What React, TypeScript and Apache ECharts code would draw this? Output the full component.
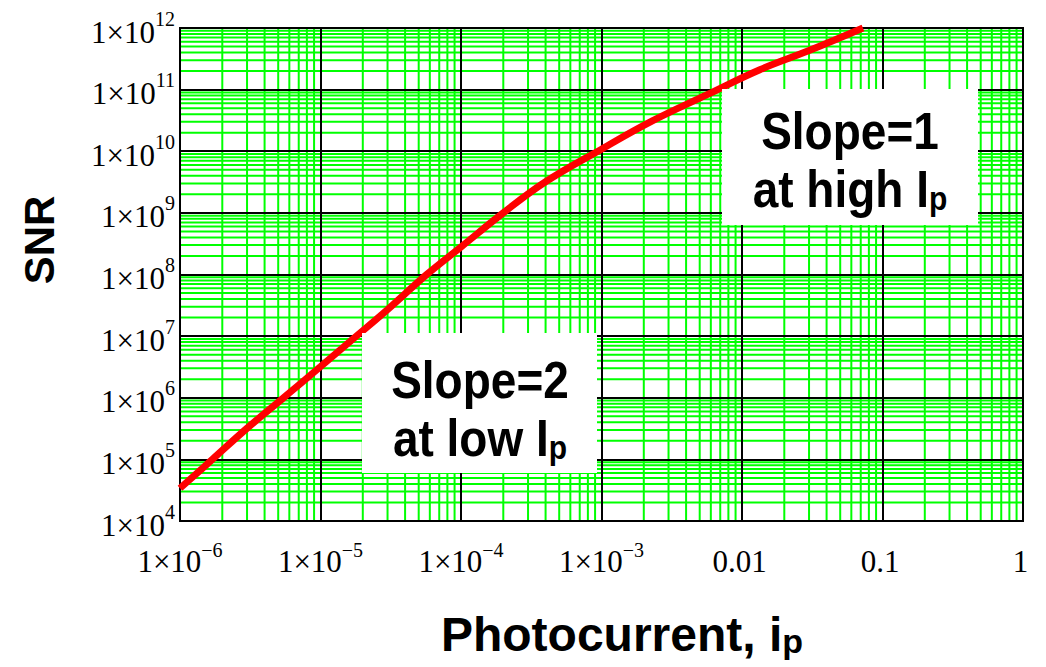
import React, { useEffect, useRef } from "react";
import * as echarts from "echarts";

// ---- data ----
const ipValues = [1e-6, 1.7e-6, 3e-6, 5.6e-6, 1e-5, 1.8e-5, 3e-5, 5.7e-5, 1e-4, 2e-4, 4e-4, 1e-3, 2.3e-3, 5.6e-3, 1.34e-2, 3e-2, 7.26e-2];
const snrValues = [3.4e4, 1e5, 3.2e5, 1.05e6, 3.2e6, 1e7, 2.7e7, 1e8, 2.8e8, 1e9, 3.2e9, 1.08e10, 3.1e10, 8.2e10, 2.1e11, 4.3e11, 1e12];

const xMin = 1e-6;
const xMax = 1;
const yMin = 1e4;
const yMax = 1e12;

const xTickExp = [-6, -5, -4, -3, -2, -1, 0];
const xTickMain = ["1×10", "1×10", "1×10", "1×10", "0.01", "0.1", "1"];
const xTickSup = ["−6", "−5", "−4", "−3", "", "", ""];

const yTickExp = [4, 5, 6, 7, 8, 9, 10, 11, 12];
const yTickMain = ["1×10", "1×10", "1×10", "1×10", "1×10", "1×10", "1×10", "1×10", "1×10"];
const yTickSup = ["4", "5", "6", "7", "8", "9", "10", "11", "12"];

const xTitle = "Photocurrent, i";
const yTitle = "SNR";
const note1 = ["Slope=1", "at high I"];
const note2 = ["Slope=2", "at low I"];
const subP = "p";

function minorValues(lo: number, hi: number): number[] {
  const out: number[] = [];
  for (let e = Math.round(Math.log10(lo)); e < Math.round(Math.log10(hi)); e++) {
    for (let k = 2; k <= 9; k++) out.push(k * Math.pow(10, e));
  }
  return out;
}

const serif = "Liberation Serif";
const sans = "Liberation Sans";

const tickRich = (supPad: number) => ({
  m: { fontFamily: serif, fontSize: 31, color: "#000", verticalAlign: "bottom" },
  s: { fontFamily: serif, fontSize: 20, color: "#000", verticalAlign: "bottom", padding: [0, 0, supPad, 0] },
});

export default function App() {
  const ref = useRef<HTMLDivElement>(null);
  useEffect(() => {
    if (!ref.current) return;
    const chart = echarts.init(ref.current, undefined, { renderer: "svg" });
    const xMinor = minorValues(xMin, xMax);
    const yMinor = minorValues(yMin, yMax);
    const noteRich = {
      a: { fontFamily: sans, fontWeight: "bold", fontSize: 46, color: "#000", lineHeight: 52, verticalAlign: "bottom" },
      b: { fontFamily: sans, fontWeight: "bold", fontSize: 30, color: "#000", lineHeight: 20, verticalAlign: "bottom" },
    };
    const green = { stroke: "#00ff00", lineWidth: 2 };
    chart.setOption({
      animation: false,
      backgroundColor: "#fff",
      grid: { left: 180, right: 23, top: 28, bottom: 146, show: true, borderColor: "#000", borderWidth: 2, backgroundColor: "#fff" },
      xAxis: {
        type: "log",
        logBase: 10,
        min: xMin,
        max: xMax,
        splitNumber: 6,
        z: 3,
        axisLine: { show: true, lineStyle: { color: "#000", width: 2 } },
        axisTick: { show: false },
        splitLine: { show: true, lineStyle: { color: "#000", width: 2 } },
        axisLabel: {
          margin: 19,
          fontSize: 31,
          fontFamily: serif,
          color: "#000",
          formatter: (v: number) => {
            const i = xTickExp.indexOf(Math.round(Math.log10(v)));
            if (i < 0) return "";
            return `{m|${xTickMain[i]}}{s|${xTickSup[i] || " "}}`;
          },
          rich: tickRich(17),
        },
      },
      yAxis: {
        type: "log",
        logBase: 10,
        min: yMin,
        max: yMax,
        splitNumber: 8,
        z: 3,
        axisLine: { show: true, lineStyle: { color: "#000", width: 2 } },
        axisTick: { show: false },
        splitLine: { show: true, lineStyle: { color: "#000", width: 2 } },
        axisLabel: {
          margin: 5,
          fontSize: 31,
          fontFamily: serif,
          color: "#000",
          formatter: (v: number) => {
            const i = yTickExp.indexOf(Math.round(Math.log10(v)));
            if (i < 0) return "";
            return `{m|${yTickMain[i]}}{s|${yTickSup[i]}}`;
          },
          rich: tickRich(19),
        },
      },
      series: [
        {
          type: "custom",
          z: 1,
          silent: true,
          clip: false,
          data: xMinor.map((v) => [v, yMin]),
          renderItem: (params: any, api: any) => {
            const v = api.value(0);
            const p0 = api.coord([v, yMin]);
            const p1 = api.coord([v, yMax]);
            return { type: "line", shape: { x1: p0[0], y1: p0[1], x2: p1[0], y2: p1[1] }, style: green };
          },
        },
        {
          type: "custom",
          z: 1,
          silent: true,
          clip: false,
          data: yMinor.map((v) => [xMin, v]),
          renderItem: (params: any, api: any) => {
            const v = api.value(1);
            const p0 = api.coord([xMin, v]);
            const p1 = api.coord([xMax, v]);
            return { type: "line", shape: { x1: p0[0], y1: p0[1], x2: p1[0], y2: p1[1] }, style: green };
          },
        },
        {
          type: "line",
          data: ipValues.map((x, i) => [x, snrValues[i]]),
          showSymbol: false,
          smooth: 0.4,
          clip: true,
          z: 5,
          lineStyle: { color: "#ff0000", width: 7 },
        },
      ],
      graphic: [
        { type: "rect", z: 10, shape: { x: 722, y: 89, width: 256, height: 136 }, style: { fill: "#fff" } },
        {
          type: "text", z: 11, x: 850, y: 157, scaleY: 1.12,
          style: {
            text: `{a|${note1[0]}}\n{a|${note1[1]}}{b|${subP}}`,
            rich: noteRich, align: "center", textAlign: "center", verticalAlign: "middle", textVerticalAlign: "middle",
          },
        },
        { type: "rect", z: 10, shape: { x: 362, y: 333, width: 235, height: 140 }, style: { fill: "#fff" } },
        {
          type: "text", z: 11, x: 480, y: 406, scaleY: 1.12,
          style: {
            text: `{a|${note2[0]}}\n{a|${note2[1]}}{b|${subP}}`,
            rich: noteRich, align: "center", textAlign: "center", verticalAlign: "middle", textVerticalAlign: "middle",
          },
        },
        {
          type: "text", z: 11, x: 39, y: 240, rotation: Math.PI / 2,
          style: {
            text: yTitle, font: `bold 42px ${sans}`, fill: "#000",
            align: "center", textAlign: "center", verticalAlign: "middle", textVerticalAlign: "middle",
          },
        },
        {
          type: "text", z: 11, x: 622, y: 630,
          style: {
            text: `{a|${xTitle}}{b|${subP}}`,
            rich: {
              a: { fontFamily: sans, fontWeight: "bold", fontSize: 48, color: "#000", lineHeight: 56, verticalAlign: "bottom" },
              b: { fontFamily: sans, fontWeight: "bold", fontSize: 34, color: "#000", lineHeight: 26, verticalAlign: "bottom" },
            },
            align: "center", textAlign: "center", verticalAlign: "middle", textVerticalAlign: "middle",
          },
        },
      ],
    });
    return () => chart.dispose();
  }, []);
  return <div ref={ref} style={{ position: "absolute", left: 0, top: 0, width: 1046, height: 667 }} />;
}
